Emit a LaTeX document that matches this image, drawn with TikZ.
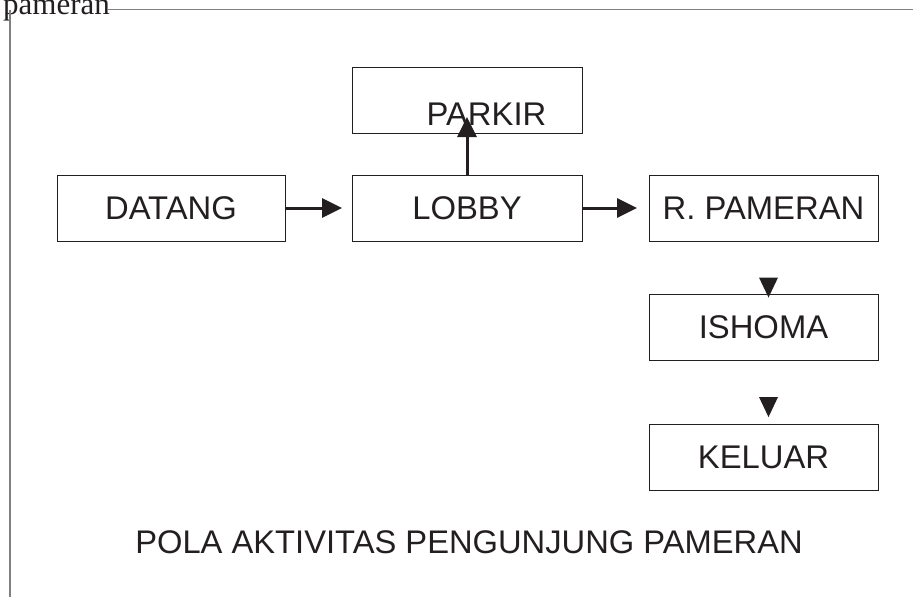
\documentclass[tikz,border=0pt]{standalone}
\usepackage{fontspec}
\setmainfont{Liberation Sans}
\newfontfamily\serifcap{Liberation Serif}
\usetikzlibrary{arrows.meta,calc}
\definecolor{ink}{HTML}{231F20}
\definecolor{framegray}{HTML}{808080}
\begin{document}
\begin{tikzpicture}[x=1pt,y=-1pt,
  boxfont/.style={font=\fontsize{32.8}{32.8}\selectfont},
  stepbox/.style={draw=ink, line width=0.9pt, rectangle, inner sep=0pt,
    minimum height=66pt, text=ink, boxfont},
  flow/.style={draw=ink, line width=3pt, -{Triangle[length=20pt,width=19pt]}},
  tip/.style={fill=ink},
  frameline/.style={draw=framegray, line width=1.2pt}
]
\useasboundingbox (0,0) rectangle (913,597);

% sheet frame and heading fragment
\node[anchor=base west, inner sep=0pt, text=ink,
      font=\serifcap\fontsize{31}{31}\selectfont] (sheet) at (3,14) {pameran};
\coordinate (frameA) at (108,9.5);
\coordinate (frameB) at (913,9.5);
\coordinate (frameC) at (10,9.5);
\coordinate (frameD) at (10,597);
\draw[frameline] (frameA) -- (frameB);
\draw[frameline] (frameC) -- (frameD);

% activity boxes
\node[stepbox, minimum width=228pt] (datang) at (171,208) {DATANG};
\node[stepbox, minimum width=230pt] (lobby)  at (467,208) {LOBBY};
\node[stepbox, minimum width=230pt] (parkir) at (467,100) {};
\node[text=ink, inner sep=0pt, boxfont] (parkirtext) at (486.5,114.5) {PARKIR};
\node[stepbox, minimum width=229pt] (rp)     at (763.5,208) {R. PAMERAN};
\node[stepbox, minimum width=229pt] (ish)    at (763.5,327) {ISHOMA};
\node[stepbox, minimum width=229pt] (kel)    at (763.5,457.5) {KELUAR};

% flow arrows
\coordinate (parkirtip) at (467,117);
\draw[flow, shorten >=-0.5pt] (datang.east) -- ($(lobby.west)+(-10,0)$);
\draw[flow, shorten >=-0.5pt] (lobby.east) -- ($(rp.west)+(-12,0)$);
\draw[flow] (lobby.north) -- (parkirtip);

% down markers above the lower boxes
\fill[tip] ($(ish.north)+(5,4)$) -- ($(ish.north)+(-4.5,-16)$) -- ($(ish.north)+(14.5,-16)$) -- cycle;
\fill[tip] ($(kel.north)+(5,-7)$) -- ($(kel.north)+(-4.5,-27)$) -- ($(kel.north)+(14.5,-27)$) -- cycle;

% caption
\node[text=ink, inner sep=0pt, font=\fontsize{32.7}{32.7}\selectfont] (caption) at (469,542) {POLA AKTIVITAS PENGUNJUNG PAMERAN};
\end{tikzpicture}
\end{document}
